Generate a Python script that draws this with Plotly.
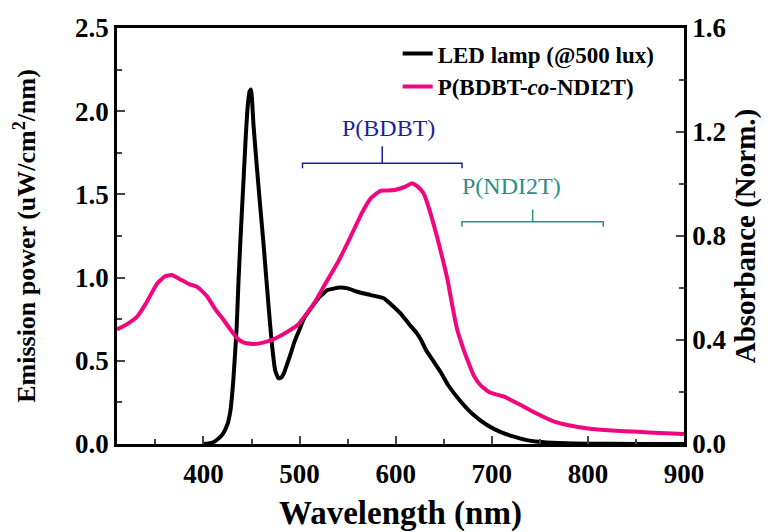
import plotly.graph_objects as go

# LED lamp emission (left axis, uW/cm^2/nm)
led_wl = [400, 405, 410, 415, 420, 425, 428, 431, 434.5, 436.5, 439, 441.7, 444, 446, 448, 449.5,
          452, 455.6, 459, 462.5, 465, 467.7, 471, 474.7, 478, 481, 484, 487, 490, 495, 500,
          505, 511, 520, 529, 542, 550, 560, 574, 588, 595, 605, 614, 622, 626, 632, 639,
          647, 655, 667, 680, 695, 710, 723, 735, 748, 770, 800, 850, 900]
led_val = [0.0, 0.003, 0.01, 0.03, 0.06, 0.12, 0.2, 0.38, 0.7, 0.99, 1.29, 1.59, 1.85, 2.03, 2.12, 2.13,
           1.92, 1.66, 1.43, 1.20, 1.02, 0.83, 0.61, 0.44, 0.395, 0.40, 0.43, 0.48, 0.53, 0.62, 0.69,
           0.76, 0.81, 0.88, 0.925, 0.94, 0.935, 0.915, 0.895, 0.875, 0.84, 0.785, 0.72, 0.665, 0.63, 0.56, 0.50,
           0.43, 0.35, 0.26, 0.18, 0.114, 0.07, 0.044, 0.025, 0.014, 0.006, 0.002, 0.0, 0.0]

# P(BDBT-co-NDI2T) absorbance (right axis, normalized)
abs_wl = [310, 320, 331, 340, 352, 360, 367, 375, 385, 393, 398, 404, 412, 421, 428, 435,
          442, 452, 462, 473, 482, 490, 498, 505, 515, 525, 540, 553, 565, 574, 584, 592,
          600, 610, 617, 623, 629, 636, 643, 649, 654, 659, 664, 670, 675, 681, 688, 697,
          705, 713, 722, 730, 745, 765, 780, 800, 825, 852, 875, 900]
abs_val = [0.441, 0.46, 0.49, 0.54, 0.618, 0.645, 0.65, 0.635, 0.615, 0.605, 0.59, 0.566, 0.52, 0.477, 0.44, 0.407,
           0.39, 0.385, 0.39, 0.403, 0.42, 0.438, 0.458, 0.49, 0.54, 0.605, 0.70, 0.797, 0.89, 0.945, 0.974, 0.975,
           0.978, 0.99, 1.003, 0.99, 0.964, 0.89, 0.797, 0.71, 0.631, 0.53, 0.44, 0.37, 0.32, 0.265, 0.227, 0.20,
           0.19, 0.182, 0.165, 0.15, 0.12, 0.086, 0.072, 0.060, 0.052, 0.047, 0.042, 0.038]

series_names = ["LED lamp (@500 lux)", "P(BDBT-<i>co</i>-NDI2T)"]
x_ticks = [400, 500, 600, 700, 800, 900]
y_left_ticks = [0.0, 0.5, 1.0, 1.5, 2.0, 2.5]
y_right_ticks = [0.0, 0.4, 0.8, 1.2, 1.6]

FONT = "Liberation Serif, Times New Roman, serif"
PINK = "#f0077f"
BLUE = "#1f1f9c"
TEAL = "#2a8f8a"

fig = go.Figure()
fig.add_trace(go.Scatter(x=led_wl, y=led_val, mode="lines", name=series_names[0],
                         line=dict(color="black", width=4, shape="spline", smoothing=0.4)))
fig.add_trace(go.Scatter(x=abs_wl, y=abs_val, mode="lines", name=series_names[1], yaxis="y2",
                         line=dict(color=PINK, width=4, shape="spline", smoothing=0.4)))

tickfont = dict(family=FONT, size=27, color="black", weight="bold")

fig.update_layout(
    width=772, height=532,
    margin=dict(l=117, r=88, t=28, b=88),
    paper_bgcolor="white", plot_bgcolor="white",
    font=dict(family=FONT, color="black"),
    showlegend=True,
    legend=dict(x=0.495, y=0.99, xanchor="left", yanchor="top",
                bgcolor="rgba(0,0,0,0)", font=dict(family=FONT, size=23, color="black", weight="bold"),
                tracegroupgap=0, itemwidth=30),
    xaxis=dict(range=[310, 900], tickvals=x_ticks, ticks="inside", ticklen=8, tickwidth=2,
               minor=dict(dtick=50, tick0=400, ticks="inside", ticklen=5, tickwidth=2),
               showline=True, linewidth=2.5, linecolor="black", mirror=True, showgrid=False,
               zeroline=False, tickfont=tickfont, ticklabelstandoff=4, automargin=False,
               title=dict(text="Wavelength (nm)", font=dict(family=FONT, size=33, color="black", weight="bold"),
                          standoff=17)),
    yaxis=dict(range=[0, 2.5], tickvals=y_left_ticks, tickformat=".1f", ticks="inside",
               ticklen=8, tickwidth=2, automargin=False,
               minor=dict(dtick=0.25, ticks="inside", ticklen=5, tickwidth=2),
               showline=True, linewidth=2.5, linecolor="black", showgrid=False, zeroline=False,
               tickfont=tickfont,
               title=dict(text="Emission power (uW/cm<sup>2</sup>/nm)",
                          font=dict(family=FONT, size=26, color="black", weight="bold"), standoff=32)),
    yaxis2=dict(range=[0, 1.6], tickvals=y_right_ticks, tickformat=".1f", overlaying="y",
                side="right", ticks="inside", ticklen=8, tickwidth=2, automargin=False,
                minor=dict(dtick=0.2, ticks="inside", ticklen=5, tickwidth=2),
                showline=True, linewidth=2.5, linecolor="black", showgrid=False, zeroline=False,
                tickfont=tickfont,
                title=dict(text="Absorbance (Norm.)",
                           font=dict(family=FONT, size=29, color="black", weight="bold"), standoff=10)),
)

# Brackets marking absorption regions
def bracket(x0, x1, y, ytop, color):
    xc = (x0 + x1) / 2
    path = (f"M {x0},{y - 0.03} L {x0},{y} L {x1},{y} L {x1},{y - 0.03} "
            f"M {xc},{y} L {xc},{ytop}")
    fig.add_shape(type="path", path=path, xref="x", yref="y",
                  line=dict(color=color, width=1.5))

bracket(503, 669, 1.687, 1.79, BLUE)
bracket(669, 816, 1.336, 1.41, TEAL)

fig.add_annotation(x=593, y=1.90, xref="x", yref="y", text="P(BDBT)", showarrow=False,
                   font=dict(family=FONT, size=24, color=BLUE))
fig.add_annotation(x=720, y=1.55, xref="x", yref="y", text="P(NDI2T)", showarrow=False,
                   font=dict(family=FONT, size=24, color=TEAL))

fig.write_html("out.html")
